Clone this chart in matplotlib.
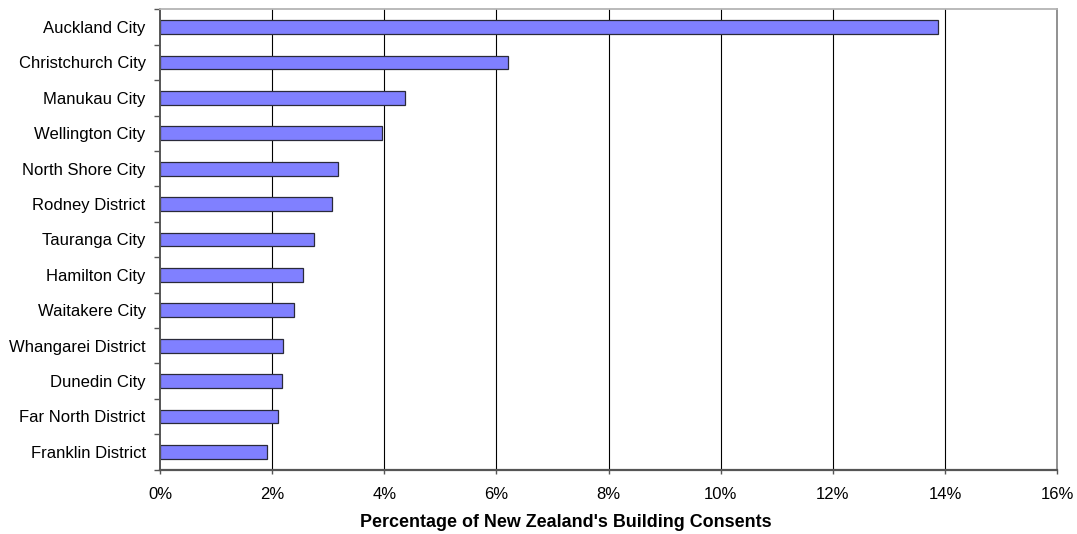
import matplotlib
matplotlib.use("Agg")
import matplotlib.pyplot as plt
from matplotlib.ticker import FixedLocator, FuncFormatter

plt.rcParams["font.family"] = ["Liberation Sans", "DejaVu Sans"]

# Share of national building consents by territorial authority (%)
districts = [
    "Auckland City", "Christchurch City", "Manukau City", "Wellington City",
    "North Shore City", "Rodney District", "Tauranga City", "Hamilton City",
    "Waitakere City", "Whangarei District", "Dunedin City",
    "Far North District", "Franklin District",
]
share_pct = [13.87, 6.20, 4.37, 3.95, 3.17, 3.06, 2.74, 2.55, 2.39, 2.20,
             2.18, 2.10, 1.91]
x_ticks = [0, 2, 4, 6, 8, 10, 12, 14, 16]
x_title = "Percentage of New Zealand's Building Consents"

W, H, DPI = 1077, 534, 100
fig = plt.figure(figsize=(W / DPI, H / DPI), dpi=DPI)
ax = fig.add_axes([160 / W, 1 - 469.6 / H, (1057.3 - 160) / W, (469.6 - 9.3) / H])

pos = list(range(len(districts)))
ax.barh(pos, share_pct, height=0.39, color="#8080FF", edgecolor="#2a2a3a",
        linewidth=0.9, zorder=3)

ax.set_xlim(x_ticks[0], x_ticks[-1])
ax.set_ylim(len(districts) - 0.5, -0.5)

# vertical gridlines behind the bars
for v in x_ticks[1:-1]:
    ax.axvline(v, color="black", linewidth=0.8, zorder=1)

# x axis
ax.xaxis.set_major_locator(FixedLocator(x_ticks))
ax.xaxis.set_major_formatter(FuncFormatter(lambda v, _: f"{v:.0f}%"))
ax.tick_params(axis="x", direction="out", length=3.2, width=1.0,
               color="#555555", pad=9, labelsize=12, labelcolor="black")

# y axis: labels at bar centres, tick marks at category boundaries
ax.set_yticks(pos)
ax.set_yticklabels(districts)
ax.tick_params(axis="y", which="major", length=0, pad=10.3, labelsize=12)
ax.yaxis.set_minor_locator(FixedLocator([p - 0.5 for p in pos] + [len(pos) - 0.5]))
ax.tick_params(axis="y", which="minor", direction="out", length=4.4,
               width=1.0, color="#555555")

for side, col, lw in [("left", "#555555", 1.4), ("bottom", "#555555", 1.6),
                      ("top", "#b4b4b4", 1.3), ("right", "#888888", 1.3)]:
    ax.spines[side].set_color(col)
    ax.spines[side].set_linewidth(lw)
    ax.spines[side].set_zorder(4)

fig.text(565.5 / W, 1 - 527 / H, x_title, ha="center", va="baseline",
         fontsize=12.9, fontweight="bold")

fig.savefig("out.png", dpi=DPI, facecolor="white")
